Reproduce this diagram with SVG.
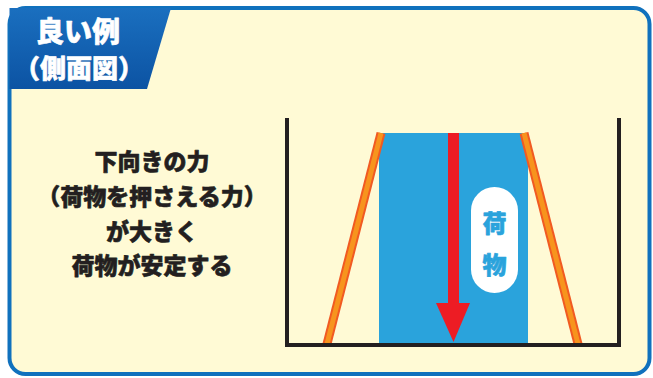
<svg xmlns="http://www.w3.org/2000/svg" width="653" height="378" viewBox="0 0 653 378">
<style>
.txt{font-family:"Noto Sans CJK JP","Noto Sans CJK SC",sans-serif;font-weight:900;text-anchor:middle;stroke-width:0.6;stroke-linejoin:round}
.dark{fill:#231f20;stroke:#231f20;font-size:23px}
.hdr{fill:#ffffff;stroke:#ffffff}
.lbl{fill:#2aa3dc;stroke:#2aa3dc;font-size:24px}
.frame{fill:none;stroke:#231f20;stroke-width:4}
.stick{stroke:#f15a22;stroke-width:9;stroke-linecap:butt}
.stickin{stroke:#f7941d;stroke-width:5}
</style>
<defs>
<linearGradient id="hg" x1="0" y1="0" x2="0" y2="1">
<stop offset="0" stop-color="#1a6fbf"/>
<stop offset="1" stop-color="#0c53a3"/>
</linearGradient>
</defs>
<rect x="0" y="0" width="653" height="378" fill="#ffffff"/>
<rect id="panel" x="9.5" y="8" width="640" height="366" rx="16" fill="#fffad5" stroke="#1071bd" stroke-width="4"/>
<g id="header">
<path d="M9.5 8 H171 L147 89 H9.5 Z" fill="url(#hg)"/>
<text class="txt hdr" x="78" y="42" font-size="28">良い例</text>
<text class="txt hdr" x="79" y="78" font-size="26">（側面図）</text>
</g>
<g id="caption">
<text class="txt dark" x="152" y="170">下向きの力</text>
<text class="txt dark" x="152" y="205">（荷物を押さえる力）</text>
<text class="txt dark" x="152" y="240">が大きく</text>
<text class="txt dark" x="152" y="274">荷物が安定する</text>
</g>
<g id="cargo">
<rect x="379" y="133" width="149" height="211" fill="#2aa3dc"/>
</g>
<g id="sticks">
<line class="stick" x1="381" y1="133" x2="327" y2="344"/>
<line class="stickin" x1="381" y1="133" x2="327" y2="344"/>
<line class="stick" x1="524" y1="133" x2="578" y2="344"/>
<line class="stickin" x1="524" y1="133" x2="578" y2="344"/>
</g>
<g id="container">
<path class="frame" d="M287 118 V345 H619 V118"/>
</g>
<g id="arrow">
<rect x="448" y="133" width="11" height="171" fill="#ed1c24"/>
<path d="M436 303 H470 L453.5 342 Z" fill="#ed1c24"/>
</g>
<g id="label">
<rect x="471" y="187" width="47" height="106" rx="23.5" fill="#ffffff"/>
<text class="txt lbl" x="494.5" y="232">荷</text>
<text class="txt lbl" x="494.5" y="274">物</text>
</g>
</svg>
